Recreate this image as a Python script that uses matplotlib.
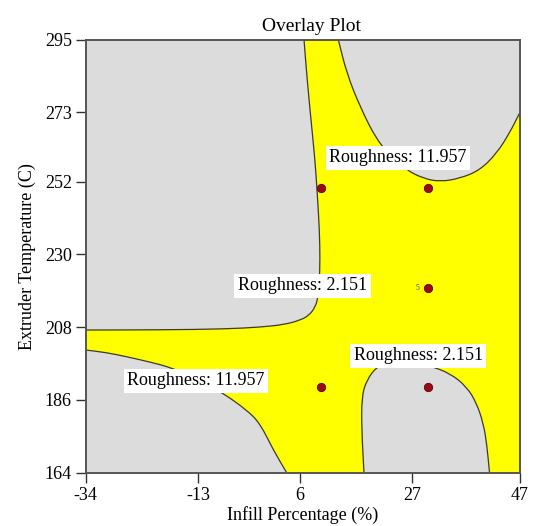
import matplotlib
matplotlib.use("Agg")
import matplotlib.pyplot as plt
from matplotlib.path import Path
from matplotlib.patches import PathPatch

plt.rcParams['font.family'] = ['Liberation Serif', 'DejaVu Serif']
plt.rcParams['axes.unicode_minus'] = False

# Axis ranges and ticks
x_ticks = [-34, -13, 6, 27, 47]
y_ticks = [164, 186, 208, 230, 252, 273, 295]

# Design points (infill %, extruder temperature)
pts_x = [10, 30, 30, 10, 30]
pts_y = [250, 250, 220, 190, 190]

# Contour boundaries of the feasible (yellow) window, Roughness 2.151 .. 11.957
# upper-left region (Roughness below 2.151)
tl_x = [6.76, 7.32, 8.07, 8.81, 9.19, 9.65, 9.75, 9.62, 9.37, 8.91, 7.69, 5.82, 3.02, -1.08, -7.99, -20.13, -34.0]
tl_y = [295.0, 283.35, 270.65, 258.55, 249.5, 237.4, 228.3, 221.4, 217.1, 214.26, 211.5, 210.0, 208.8, 208.06, 207.45, 207.2, 207.15]

# lower-left region (Roughness above 11.957)
bl_x = [-34.0, -30.2, -26.35, -22.0, -18.26, -13.22, -8.31, -3.94, -1.46, 1.03, 3.53]
bl_y = [201.1, 200.35, 199.08, 197.47, 195.87, 192.64, 188.0, 182.96, 178.94, 170.86, 164.0]

# upper-right region (Roughness above 11.957)
tr_x = [13.16, 14.73, 17.21, 20.33, 23.2, 25.93, 29.03, 32.15, 35.88, 39.62, 42.74, 45.1, 47.0]
tr_y = [295.0, 284.8, 274.7, 264.6, 259.5, 255.5, 253.0, 252.0, 253.0, 255.5, 260.6, 266.6, 272.7]

# lower-right region (Roughness below 2.151)
br_x = [17.96, 17.53, 17.53, 18.46, 20.33, 22.4, 24.68, 27.5, 30.28, 34.02, 37.14, 39.0, 40.24, 40.87, 41.4]
br_y = [164.0, 176.9, 187.0, 192.0, 196.05, 197.2, 197.5, 197.2, 196.3, 194.06, 190.0, 185.0, 178.9, 172.9, 164.0]

# Contour labels
lab_text = ["Roughness: 11.957", "Roughness: 2.151", "Roughness: 2.151", "Roughness: 11.957"]
lab_x = [24.3, 6.48, 28.1, -13.44]
lab_y = [259.2, 220.5, 199.3, 191.8]

xmin, xmax = x_ticks[0], x_ticks[-1]
ymin, ymax = y_ticks[0], y_ticks[-1]


def smooth_path(xs, ys, corners=None):
    """Quadratic-Bezier path through the midpoints of a polyline,
    optionally closed through straight corner vertices."""
    p = list(zip(xs, ys))
    verts = [p[0], ((p[0][0] + p[1][0]) / 2, (p[0][1] + p[1][1]) / 2)]
    codes = [Path.MOVETO, Path.LINETO]
    for i in range(1, len(p) - 1):
        mid = ((p[i][0] + p[i + 1][0]) / 2, (p[i][1] + p[i + 1][1]) / 2)
        verts += [p[i], mid]
        codes += [Path.CURVE3, Path.CURVE3]
    verts.append(p[-1])
    codes.append(Path.LINETO)
    if corners:
        for c in corners:
            verts.append(c)
            codes.append(Path.LINETO)
        verts.append(p[0])
        codes.append(Path.CLOSEPOLY)
    return Path(verts, codes)


fig = plt.figure(figsize=(5.33, 5.26), dpi=100)
ax = fig.add_axes([0.1608, 0.1013, 0.8139, 0.8236])
ax.set_xlim(xmin, xmax)
ax.set_ylim(ymin, ymax)
ax.set_facecolor('#FFFF00')

gray = '#DCDCDC'
edge = '#3a3a2a'

regions = [
    (tl_x, tl_y, [(xmin, ymax)]),
    (bl_x, bl_y, [(xmin, ymin)]),
    (tr_x, tr_y, [(xmax, ymax)]),
    (br_x, br_y, [(br_x[-1], ymin)]),
]
for rx, ry, cor in regions:
    ax.add_patch(PathPatch(smooth_path(rx, ry, cor), fc=gray, ec='none', lw=0, zorder=1))
    ax.add_patch(PathPatch(smooth_path(rx, ry), fc='none', ec=edge, lw=0.9, zorder=2))

ax.plot(pts_x, pts_y, 'o', color='#9A0A14', mec='#5a0008', mew=0.6, ms=6, zorder=4)
ax.text(pts_x[2] - 2.0, pts_y[2], '5', fontsize=5.5, color='#444444',
        ha='center', va='center', zorder=4)

for t, lx, ly in zip(lab_text, lab_x, lab_y):
    ax.text(lx, ly, t, fontsize=13, ha='center', va='center', zorder=5,
            bbox=dict(boxstyle='square,pad=0.2', fc='white', ec='none'))

ax.set_xticks(x_ticks)
ax.set_yticks(y_ticks)
ax.tick_params(direction='out', length=7, width=1, color='#333333',
               labelsize=13, pad=3)
for s in ax.spines.values():
    s.set_color('#555555')
    s.set_linewidth(1.4)

ax.set_xlabel('Infill Percentage (%)', fontsize=13, labelpad=2)
ax.set_ylabel('Extruder Temperature (C)', fontsize=13, labelpad=6)
ax.set_title('Overlay Plot', fontsize=14, pad=6, x=0.52)

fig.savefig('out.png', dpi=100)
